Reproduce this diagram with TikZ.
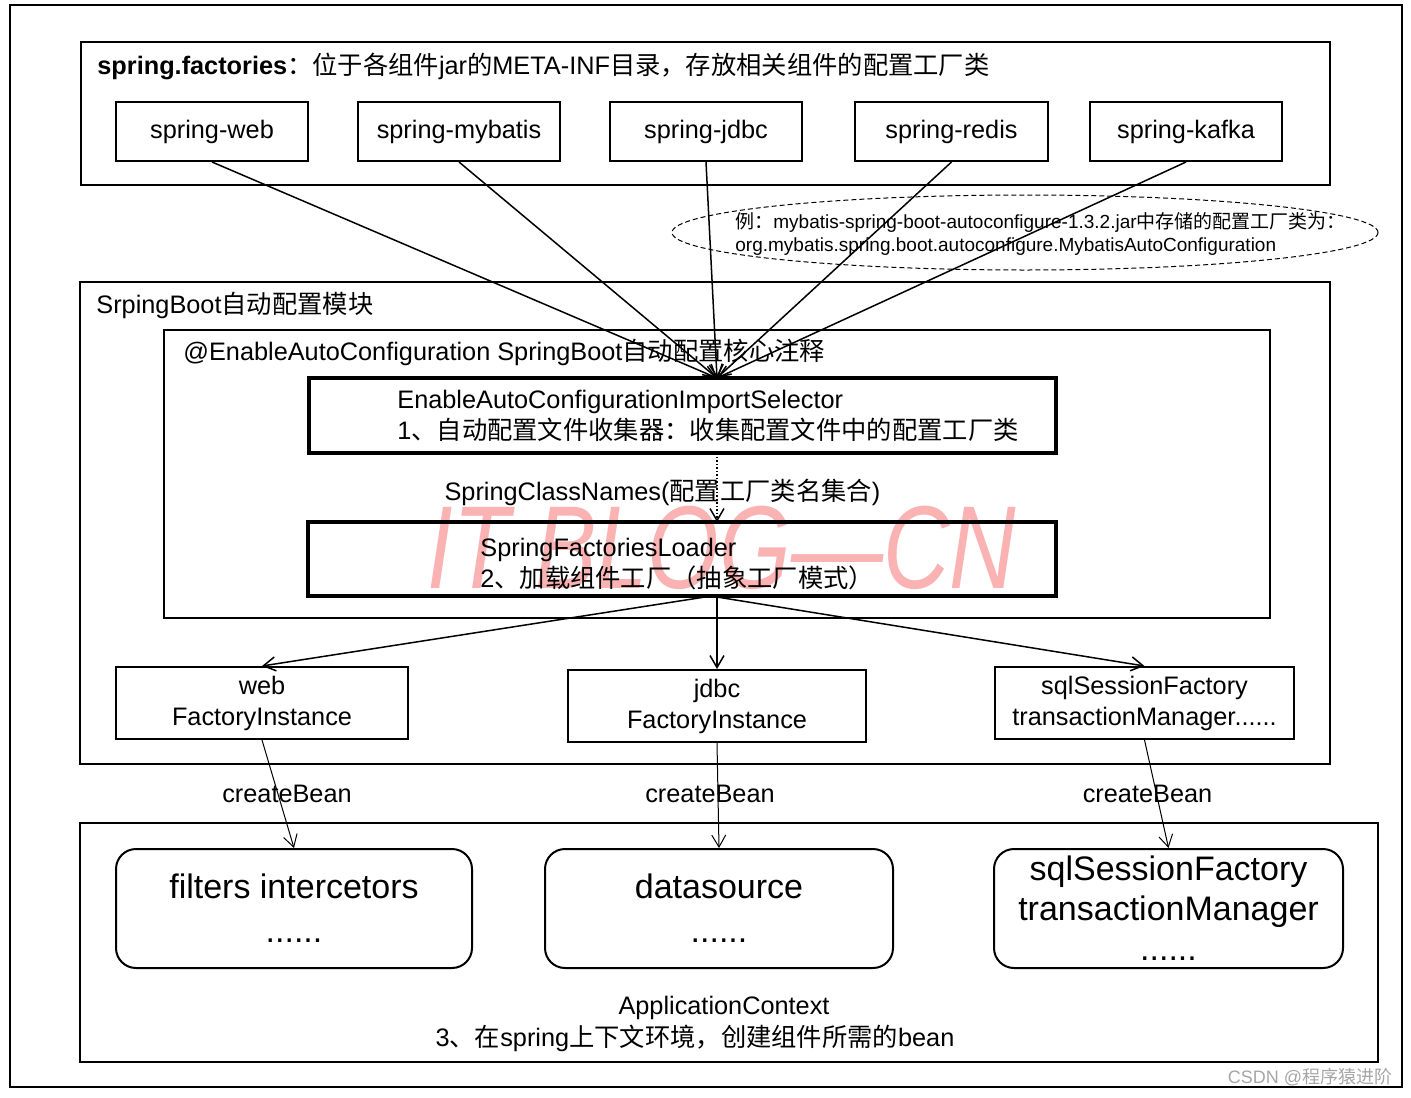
\documentclass[tikz,border=0pt]{standalone}
\usepackage{fontspec}
\setmainfont{Liberation Sans}
\newfontfamily\cjk{Noto Sans CJK SC}
\newcommand{\zh}[1]{{\cjk #1}}
\definecolor{wmpink}{RGB}{250,178,178}
\usetikzlibrary{arrows.meta,shapes.geometric}

\begin{document}
\begin{tikzpicture}[
  x=0.5pt, y=-0.5pt,
  font=\fontsize{12.65}{15.5}\selectfont,
  frame/.style={draw, line width=1pt, inner sep=0pt},
  jarbox/.style={draw, line width=1pt, minimum width=96pt, minimum height=29.5pt, inner sep=0pt},
  corebox/.style={draw, line width=1.6pt, inner sep=0pt},
  lefttext/.style={inner sep=0pt, align=left},
  instbox/.style={draw, line width=1pt, align=center, minimum width=146pt, minimum height=36pt, inner sep=0pt},
  beanbox/.style={draw, line width=1pt, rounded corners=10pt, align=center, minimum width=174pt, minimum height=59.5pt, inner sep=0pt, font=\fontsize{17}{22}\selectfont},
  note/.style={draw, ellipse, line width=0.5pt, dash pattern=on 2.5pt off 1.5pt, minimum width=353pt, minimum height=37.5pt, inner sep=0pt},
  flow/.style={->, line width=0.75pt},
  beanflow/.style={->, line width=0.5pt},
  wmark/.style={font=\fontsize{59}{59}\selectfont\itshape, text=wmpink, xscale=0.78},
  >={Straight Barb[length=6pt,width=7pt]}
]
\useasboundingbox (0,0) rectangle (1411,1097);

% watermarks
\node[wmark] (blog) at (722,548) {IT BLOG—CN};
\node[font=\fontsize{9}{9}\selectfont, text=black!35] (csdn) at (1310,1077) {CSDN @\zh{程序猿进阶}};

% containers
\node[frame, minimum width=696pt, minimum height=541pt] (outer) at (706,546) {};
\node[frame, minimum width=624.5pt, minimum height=71.5pt] (factories) at (705.5,113.5) {};
\node[frame, minimum width=625pt, minimum height=241pt] (bootmod) at (705,523) {};
\node[frame, minimum width=553pt, minimum height=144pt] (enable) at (717,474) {};
\node[frame, minimum width=649pt, minimum height=119.5pt] (context) at (729,942.5) {};

\node[lefttext, anchor=base west] (factitle) at (97,75)
  {\textbf{spring.factories}\zh{：位于各组件}jar\zh{的}META-INF\zh{目录，存放相关组件的配置工厂类}};
\node[lefttext, anchor=base west] (boottitle) at (96,313) {SrpingBoot\zh{自动配置模块}};
\node[lefttext, anchor=base west] (enabletitle) at (183,360) {@EnableAutoConfiguration SpringBoot\zh{自动配置核心注释}};

% jars
\node[jarbox] (web) at (212,131.5) {spring-web};
\node[jarbox, minimum width=101pt] (mybatis) at (459,131.5) {spring-mybatis};
\node[jarbox] (jdbc) at (706,131.5) {spring-jdbc};
\node[jarbox, minimum width=96.5pt] (redis) at (951.5,131.5) {spring-redis};
\node[jarbox] (kafka) at (1186,131.5) {spring-kafka};

% example note
\node[note] (mbnote) at (1025,232.5) {};
\node[lefttext, anchor=west, font=\fontsize{9.5}{11.5}\selectfont] (mbtext) at (735,233.5)
  {\zh{例：}mybatis-spring-boot-autoconfigure-1.3.2.jar\zh{中存储的配置工厂类为：}\\
   org.mybatis.spring.boot.autoconfigure.MybatisAutoConfiguration};

% core steps
\node[corebox, minimum width=373.5pt, minimum height=37.5pt] (selector) at (682.5,415.5) {};
\node[lefttext, anchor=west] (seltext) at (397,415.5)
  {EnableAutoConfigurationImportSelector\\ 1\zh{、自动配置文件收集器：收集配置文件中的配置工厂类}};
\node[corebox, minimum width=374pt, minimum height=37pt] (loader) at (682,559) {};
\node[lefttext, anchor=west] (ldtext) at (480,564)
  {SpringFactoriesLoader\\ 2\zh{、加载组件工厂（抽象工厂模式）}};
\node (names) at (662.5,492) {SpringClassNames(\zh{配置工厂类名集合})};

\coordinate (selin) at (717,378);
\coordinate (selout) at (717,453);
\coordinate (ldin) at (717,522);
\coordinate (ldoutl) at (705,597);
\coordinate (ldout) at (717,597);

% factory instances
\node[instbox] (webinst) at (262,703) {web\\FactoryInstance};
\node[instbox, minimum width=149pt] (jdbcinst) at (717,706) {jdbc\\FactoryInstance};
\node[instbox, minimum width=149.5pt] (sqlinst) at (1144.5,703) {sqlSessionFactory\\transactionManager......};

% beans
\node[beanbox, minimum width=178pt] (filters) at (294,908.5) {filters intercetors\\......};
\node[beanbox] (datasource) at (719,908.5) {datasource\\......};
\node[beanbox, minimum width=174.5pt, font=\fontsize{17}{20}\selectfont] (sqlbean) at (1168.5,908.5)
  {sqlSessionFactory\\transactionManager\\......};
\node (ctxtitle) at (724,1008) {ApplicationContext};
\node (ctxtext) at (695,1038) {3\zh{、在}spring\zh{上下文环境，创建组件所需的}bean};

% connectors
\foreach \jar in {web,mybatis,jdbc,redis,kafka}
  \draw[flow] (\jar.south) -- (selin);
\draw[->, line width=0.75pt, densely dotted] (selout) -- (ldin);
\draw[flow] (ldoutl) -- (webinst.north);
\draw[flow] (ldout) -- (jdbcinst.north);
\draw[flow] (ldout) -- (sqlinst.north);

\draw[beanflow] (webinst.south) -- node[xshift=4.5pt] {createBean} (filters.north);
\draw[beanflow] (jdbcinst.south) -- node[xshift=-4pt, yshift=1pt] {createBean} (datasource.north);
\draw[beanflow] (sqlinst.south) -- node[xshift=-4.5pt] {createBean} (sqlbean.north);

\end{tikzpicture}
\end{document}
